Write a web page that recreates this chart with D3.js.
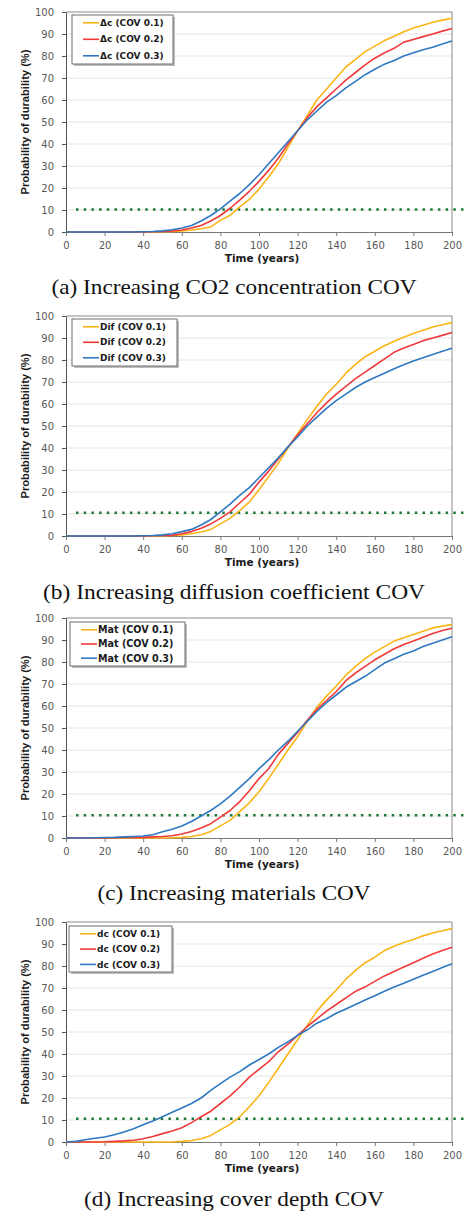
<!DOCTYPE html>
<html>
<head>
<meta charset="utf-8">
<script src="https://cdn.jsdelivr.net/npm/d3@7"></script>
<style>
  html, body { margin: 0; padding: 0; background: #fff; }
  svg { display: block; }
  .tick text { font-family: "DejaVu Sans", Verdana, sans-serif; font-size: 10px; fill: #595959; }
  .y.axis .domain, .y.axis .tick line { stroke: #555; }
  .x.axis .domain { stroke: #777; }
  .x.axis .tick line { stroke: #777; }
</style>
</head>
<body>
<script>
// years sampled every 5
const years = [0,5,10,15,20,25,30,35,40,45,50,55,60,65,70,75,80,85,90,95,100,105,110,115,120,125,130,135,140,145,150,155,160,165,170,175,180,185,190,195,200];

// (a) CO2 concentration
const co2Cov1 = [0,0,0,0,0,0,0,0,0,0,0.1,0.2,0.5,0.9,1.5,2.3,5.3,7.6,11.4,14.8,19.5,25,31,38.5,46,53,60,65,70,75,78.5,82,84.5,87,89,91,92.7,94,95.3,96.3,97.2];
const co2Cov2 = [0,0,0,0,0,0,0,0,0,0.1,0.3,0.5,0.9,1.8,3,5,7.5,10.8,14.5,18.5,23,28,33.5,40,46,52,57,61,65,69,72.5,76,79,81.5,83.5,86.3,87.5,88.8,90,91.3,92.5];
const co2Cov3 = [0,0,0,0,0,0,0,0,0.1,0.2,0.5,1,1.8,3,5,7.5,10.5,14,17.5,21.5,26,31,36,41,46,51,55,59,62,65.5,68.5,71.5,74,76.3,78,80,81.5,82.8,84,85.5,86.8];

// (b) diffusion coefficient
const difCov1 = [0,0,0,0,0,0,0,0,0,0,0.1,0.2,0.5,1,1.8,3,5.5,8,11.5,15.5,21,27,33,40,46.5,53,59,64.5,69,74,78,81.5,84,86.5,88.5,90.3,92,93.5,95,96,97];
const difCov2 = [0,0,0,0,0,0,0,0,0,0.1,0.2,0.3,1,2,3.5,5.5,8,11,15,19,24.5,29.5,35,40.5,46,51,56,60.5,64.5,68,71.5,74.5,77.5,80.5,83.5,85.5,87,88.8,90,91.2,92.5];
const difCov3 = [0,0,0,0,0,0,0,0,0.1,0.2,0.5,1,2,3,5,7.5,11,14.5,18.5,22,26.5,31,35.5,40.5,45,50,54,58,61.5,64.5,67.5,70,72,74,76,77.8,79.5,81,82.5,84,85.3];

// (c) materials
const matCov1 = [0,0,0,0,0,0,0,0,0,0,0,0.1,0.3,0.7,1.5,3,5.5,8,12,16,21,27,33.5,40,46,53,59.5,64.5,69,74,78,81.5,84.5,87,89.5,91,92.5,94,95.5,96.3,97];
const matCov2 = [0,0,0,0,0,0.1,0.2,0.3,0.3,0.5,0.7,1,1.8,3,4.5,6.5,9.5,12.5,16.5,21.5,27,31.5,38,43,48,53.5,58.5,62.5,66.5,71.5,75,78,81,83.5,86,88,89.5,91.3,93,94.3,95.3];
const matCov3 = [0,0,0,0.1,0.2,0.3,0.5,0.7,0.9,1.5,2.8,4,5.5,7.5,10,12.5,15.5,19,23,27,31.5,35.5,40,44,48.5,53,57.5,61.5,65,68.5,71,73.5,76.5,79.5,81.5,83.5,85,87,88.5,90,91.5];

// (d) cover depth
const dcCov1 = [0,0,0,0,0,0,0,0,0,0,0,0,0.3,0.7,1.5,3,5.5,8,11.5,16,21,27,33.5,40,46.5,53,59.5,64.5,69,74,78,81.5,84,87,89,90.7,92,93.7,95,96,97];
const dcCov2 = [0,0,0,0,0.1,0.3,0.5,0.8,1.5,2.5,3.8,5,6.5,8.8,11.5,14,17.5,21,25,29.5,33,36.5,41,44.5,48.5,52.5,56,59.5,62.5,65.5,68.5,70.5,73,75.5,77.5,79.5,81.5,83.5,85.5,87,88.5];
const dcCov3 = [0,0.3,1,1.7,2.3,3.3,4.5,6,7.8,9.5,11.5,13.5,15.5,17.5,20,23.5,26.5,29.5,32,35,37.5,40,43,45.5,48.5,51,54,56,58.5,60.5,62.5,64.5,66.5,68.5,70.5,72.2,74,75.8,77.5,79.3,81];

const xTicks = [0,20,40,60,80,100,120,140,160,180,200];
const yTicks = [0,10,20,30,40,50,60,70,80,90,100];
const covLabels = ['COV 0.1', 'COV 0.2', 'COV 0.3'];
const prefixes = ['\u0394c', 'Dif', 'Mat', 'dc'];
const captions = [
  '(a) Increasing CO2 concentration COV',
  '(b) Increasing diffusion coefficient COV',
  '(c) Increasing materials COV',
  '(d) Increasing cover depth COV'
];
const thresholds = [10.2, 10.6, 10.3, 10.6];
const seriesSets = [
  [co2Cov1, co2Cov2, co2Cov3],
  [difCov1, difCov2, difCov3],
  [matCov1, matCov2, matCov3],
  [dcCov1, dcCov2, dcCov3]
];

const colors = ['#fbb416', '#f03a3a', '#2f78c2'];
const WIDTH = 466, HEIGHT = 1212;
const LEFT = 66, RIGHT = 452, PLOT_H = 220;

// layout per panel (plot top, legend box, caption baseline)
const layout = [
  {top: 12,  legend: {x: 72, y: 15,  w: 101, h: 49, row: 16.5, fs: 9},   cap: 294, capW: 365},
  {top: 316, legend: {x: 72, y: 319, w: 105, h: 47, row: 15.5, fs: 9},   cap: 599, capW: 382},
  {top: 618, legend: {x: 70, y: 622, w: 115, h: 44, row: 14.2, fs: 9.6}, cap: 900, capW: 273},
  {top: 922, legend: {x: 69, y: 926, w: 103, h: 46, row: 15.3, fs: 9},   cap: 1206, capW: 300}
];

const svg = d3.select('body').append('svg')
  .attr('width', WIDTH)
  .attr('height', HEIGHT);

svg.append('rect').attr('width', WIDTH).attr('height', HEIGHT).attr('fill', '#fff');

layout.forEach((L, p) => {
  const g = svg.append('g').attr('class', 'panel');
  const x = d3.scaleLinear().domain([0, 200]).range([LEFT, RIGHT]);
  const y = d3.scaleLinear().domain([0, 100]).range([L.top + PLOT_H, L.top]);

  // gridlines
  g.append('g').selectAll('line')
    .data(yTicks.filter(v => v > 0 && v < 100))
    .join('line')
    .attr('x1', LEFT).attr('x2', RIGHT)
    .attr('y1', d => y(d)).attr('y2', d => y(d))
    .attr('stroke', '#e4e4e4').attr('stroke-width', 1);

  // frame top/right
  g.append('path')
    .attr('d', `M${LEFT},${y(100)}H${RIGHT}V${y(0)}`)
    .attr('fill', 'none').attr('stroke', '#8a8a8a').attr('stroke-width', 1);

  g.append('g').attr('class', 'x axis')
    .attr('transform', `translate(0,${y(0)})`)
    .call(d3.axisBottom(x).tickValues(xTicks).tickSize(4).tickPadding(6).tickSizeOuter(0));

  g.append('g').attr('class', 'y axis')
    .attr('transform', `translate(${LEFT},0)`)
    .call(d3.axisLeft(y).tickValues(yTicks).tickSize(4).tickPadding(8).tickSizeOuter(0));

  // threshold line
  g.append('line')
    .attr('x1', 76).attr('x2', WIDTH)
    .attr('y1', y(thresholds[p])).attr('y2', y(thresholds[p]))
    .attr('stroke', '#1d7a3c').attr('stroke-width', 2.5)
    .attr('stroke-dasharray', '2.5,5.2');

  // curves
  const line = d3.line().x((d, i) => x(years[i])).y(d => y(d));
  seriesSets[p].forEach((s, k) => {
    g.append('path')
      .datum(s)
      .attr('d', line)
      .attr('fill', 'none')
      .attr('stroke', colors[k])
      .attr('stroke-width', 1.6)
      .attr('stroke-linejoin', 'round');
  });

  // legend
  const lg = L.legend;
  const leg = g.append('g').attr('class', 'legend');
  leg.append('rect')
    .attr('x', lg.x + 2).attr('y', lg.y + 2).attr('width', lg.w).attr('height', lg.h)
    .attr('fill', '#bdbdbd');
  leg.append('rect')
    .attr('x', lg.x).attr('y', lg.y).attr('width', lg.w).attr('height', lg.h)
    .attr('fill', '#fff').attr('stroke', '#6e6e6e').attr('stroke-width', 1);
  covLabels.forEach((c, k) => {
    const ry = lg.y + 7.8 + k * lg.row;
    leg.append('line')
      .attr('x1', lg.x + 11).attr('x2', lg.x + 27)
      .attr('y1', ry).attr('y2', ry)
      .attr('stroke', colors[k]).attr('stroke-width', 1.6);
    leg.append('text')
      .attr('x', lg.x + 28).attr('y', ry)
      .attr('dy', '0.35em')
      .attr('font-family', '"DejaVu Sans", Verdana, sans-serif')
      .attr('font-weight', 'bold')
      .attr('font-size', lg.fs)
      .attr('fill', '#1a1a1a')
      .text(`${prefixes[p]} (${c})`);
  });

  // axis titles
  g.append('text')
    .attr('x', 262).attr('y', y(0) + 30)
    .attr('text-anchor', 'middle')
    .attr('font-family', '"DejaVu Sans", Verdana, sans-serif')
    .attr('font-weight', 'bold').attr('font-size', 10.5)
    .attr('fill', '#1a1a1a')
    .text('Time (years)');

  g.append('text')
    .attr('transform', `translate(29,${y(50)}) rotate(-90)`)
    .attr('text-anchor', 'middle')
    .attr('font-family', '"Liberation Sans", Arial, sans-serif')
    .attr('font-weight', 'bold').attr('font-size', 11.5)
    .attr('textLength', 145).attr('lengthAdjust', 'spacingAndGlyphs')
    .attr('fill', '#1a1a1a')
    .text('Probability of durability (%)');

  // caption
  g.append('text')
    .attr('x', 234).attr('y', L.cap)
    .attr('text-anchor', 'middle')
    .attr('font-family', '"Liberation Serif", "Times New Roman", serif')
    .attr('font-size', 21)
    .attr('textLength', L.capW).attr('lengthAdjust', 'spacingAndGlyphs')
    .attr('fill', '#111')
    .text(captions[p]);
});
</script>
</body>
</html>
